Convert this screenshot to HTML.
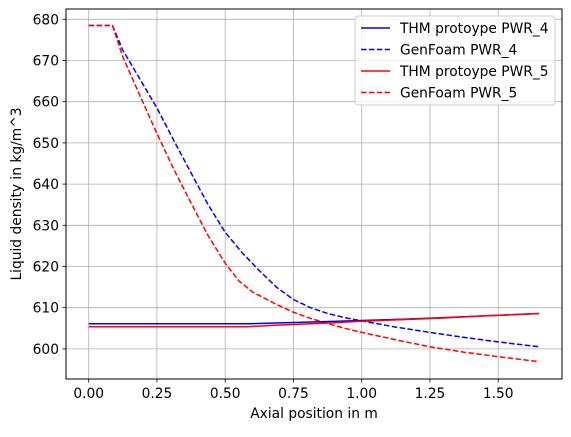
<!DOCTYPE html>
<html><head><meta charset="utf-8"><style>
body{margin:0;background:#fff}
svg text{font-family:"DejaVu Sans","Liberation Sans",sans-serif;fill:#000}
</style></head><body>
<svg id="chart" width="571" height="432" xmlns="http://www.w3.org/2000/svg">
<g id="grid"></g>
<g id="series"></g>
<rect x="66" y="9" width="496" height="370" fill="none" stroke="#000" stroke-width="1"/>
<g id="ticks"></g>
<text x="314" y="418" font-size="13.8" text-anchor="middle">Axial position in m</text>
<text transform="translate(21,194) rotate(-90)" font-size="13.8" text-anchor="middle">Liquid density in kg/m^3</text>
<g>
<rect x="355" y="16" width="200" height="89" rx="3" fill="#fff" fill-opacity="0.8" stroke="#ccc"/>
<line x1="361" x2="390" y1="28" y2="28" stroke="#0000ff" stroke-width="1.5"/>
<text x="400" y="33" font-size="13.8">THM protoype PWR_4</text>
<line x1="361" x2="390" y1="49.5" y2="49.5" stroke="#0000ff" stroke-width="1.5" stroke-dasharray="5.5,2.4"/>
<text x="400" y="54.5" font-size="13.8">GenFoam PWR_4</text>
<line x1="361" x2="390" y1="71" y2="71" stroke="#ff0000" stroke-width="1.5"/>
<text x="400" y="76" font-size="13.8">THM protoype PWR_5</text>
<line x1="361" x2="390" y1="92.5" y2="92.5" stroke="#ff0000" stroke-width="1.5" stroke-dasharray="5.5,2.4"/>
<text x="400" y="97.5" font-size="13.8">GenFoam PWR_5</text>
</g>
</svg>
<script>
const xTicks=[0,0.25,0.5,0.75,1.0,1.25,1.5];
const xTickLabels=["0.00","0.25","0.50","0.75","1.00","1.25","1.50"];
const yTicks=[600,610,620,630,640,650,660,670,680];
const gen4X=[0,0.087,0.125,0.1875,0.25,0.3125,0.375,0.4375,0.5,0.5625,0.625,0.6875,0.75,0.8125,0.875,0.9375,1.0,1.125,1.25,1.375,1.5,1.65];
const gen4=[678.5,678.5,672.5,665.5,658.5,650.5,642.7,635,628.3,623.3,619,615,612,610,608.6,607.6,606.8,605.3,604,602.8,601.7,600.5];
const gen5X=[0,0.087,0.125,0.1875,0.25,0.3125,0.375,0.4375,0.5,0.55,0.6,0.6875,0.75,0.8125,0.875,0.9375,1.0,1.125,1.25,1.375,1.5,1.65];
const gen5=[678.5,678.5,670.9,661.5,652.3,643.5,635.4,627.5,620.8,616.5,613.8,610.8,608.9,607.4,606.2,605,604,602.2,600.5,599.2,598.1,596.9];
const thmX=[0,0.58,0.7,0.85,1.0,1.15,1.3,1.45,1.65];
const thm4=[606.1,606.1,606.3,606.6,606.9,607.2,607.6,608.0,608.6];
const thm5=[605.4,605.4,605.8,606.2,606.7,607.1,607.5,608.0,608.6];
const NS="http://www.w3.org/2000/svg";
const sx=v=>88.7+v*273;
const sy=v=>19.3+(680-v)*4.12;
function mk(t,a,p){const e=document.createElementNS(NS,t);for(const k in a)e.setAttribute(k,a[k]);p.appendChild(e);return e;}
const grid=document.getElementById('grid'),ticks=document.getElementById('ticks'),ser=document.getElementById('series');
xTicks.forEach((v,i)=>{
 const g=mk('line',{x1:sx(v),x2:sx(v),y1:9,y2:379,stroke:'#b0b0b0','stroke-width':0.8},grid);
 
 
 mk('line',{x1:sx(v),x2:sx(v),y1:379,y2:382.5,stroke:'#000','stroke-width':0.8},ticks);
 const t=mk('text',{x:sx(v),y:398,'font-size':13.8,'text-anchor':'middle'},ticks);t.textContent=xTickLabels[i];
 
 
});
yTicks.forEach(v=>{
 const g=mk('line',{x1:66,x2:562,y1:sy(v),y2:sy(v),stroke:'#b0b0b0','stroke-width':0.8},grid);
 
 
 mk('line',{x1:62.5,x2:66,y1:sy(v),y2:sy(v),stroke:'#000','stroke-width':0.8},ticks);
 const t=mk('text',{x:59,y:sy(v)+5,'font-size':13.8,'text-anchor':'end'},ticks);t.textContent=v;
 
 
});
function line(xs,ys,col,dash,name){
 const d=xs.map((x,i)=>(i?'L':'M')+sx(x).toFixed(1)+','+sy(ys[i]).toFixed(1)).join('');
 const p=mk('path',{d:d,fill:'none',stroke:col,'stroke-width':1.5,'stroke-linejoin':'round'},ser);
 if(dash)p.setAttribute('stroke-dasharray','5.5,2.4');
 
 
}
line(gen4X,gen4,'#0000ff',true,'genfoam-pwr4-line');
line(gen5X,gen5,'#ff0000',true,'genfoam-pwr5-line');
line(thmX,thm4,'#0000ff',false,'thm-pwr4-line');
line(thmX,thm5,'#ff0000',false,'thm-pwr5-line');
</script>
</body></html>
